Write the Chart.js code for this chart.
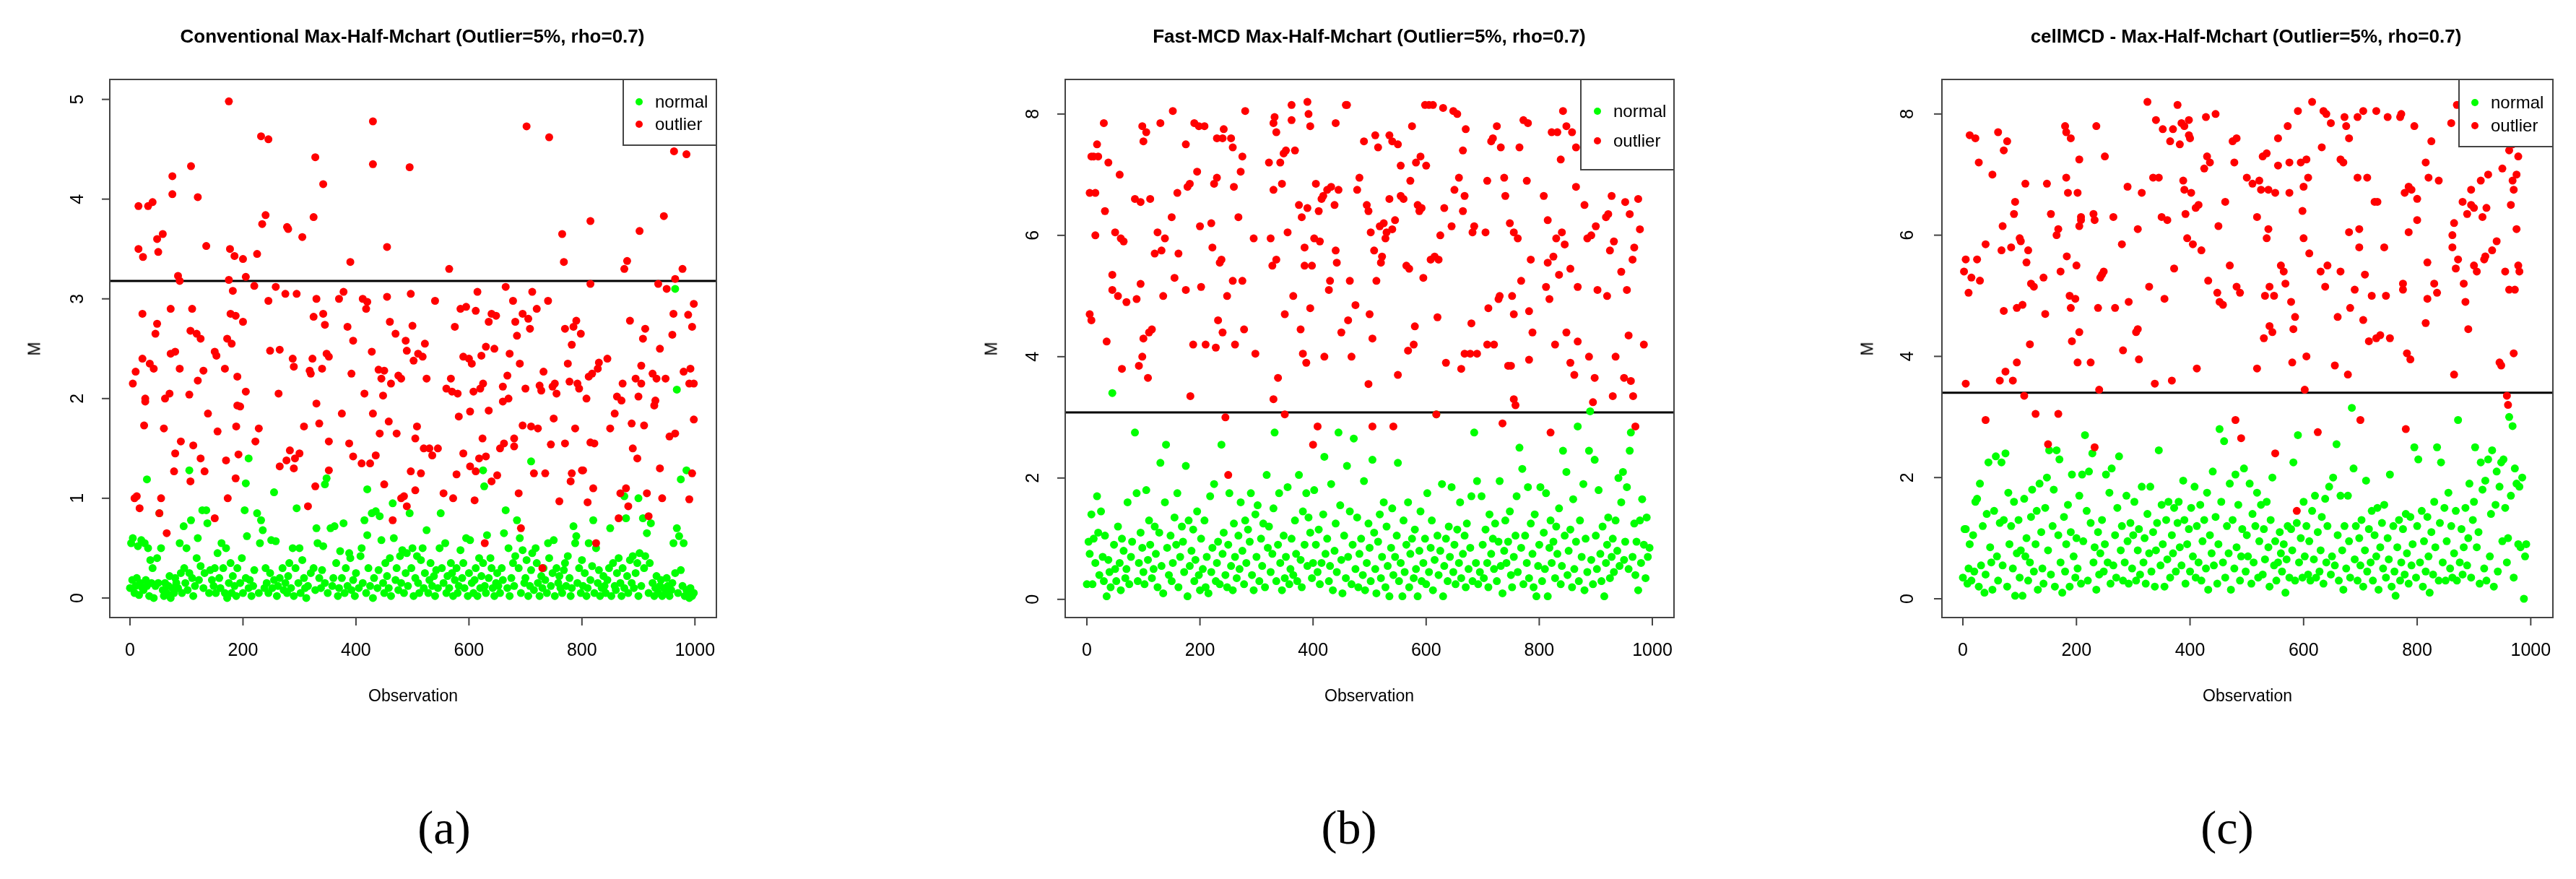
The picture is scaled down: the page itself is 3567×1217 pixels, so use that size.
<!DOCTYPE html>
<html><head><meta charset="utf-8">
<script src="https://cdn.jsdelivr.net/npm/chart.js@4"></script>
<style>
body{margin:0;background:#fff;width:3567px;height:1217px;overflow:hidden;position:relative;font-family:"Liberation Sans",Arial,sans-serif}
canvas{position:absolute;left:0;top:0}
.t{position:absolute;white-space:nowrap;transform:translate(-50%,-50%);color:#000}
.title{font-weight:bold;font-size:26px}
.lab{font-size:23px}
.cap{font-family:"Liberation Serif","DejaVu Serif",serif;font-size:66px}
.leg{font-size:24px;transform:translate(0,-50%)}
.m{transform:translate(-50%,-50%) rotate(-90deg)}
</style></head><body>
<script>
const xTicks=[0,200,400,600,800,1000];
const yTicksA=[0,1,2,3,4,5];
const yTicksBC=[0,2,4,6,8];
const thresholds=[3.18,3.08,3.4];
const titles=["Conventional Max-Half-Mchart (Outlier=5%, rho=0.7)","Fast-MCD Max-Half-Mchart (Outlier=5%, rho=0.7)","cellMCD - Max-Half-Mchart (Outlier=5%, rho=0.7)"];
const captions=["(a)","(b)","(c)"];
const legendLabels=["normal","outlier"];

const aOutlier=[5,2.15,8,1.0,10,2.27,12,1.02,15,3.93,15,3.5,17,0.9,22,2.85,22,2.4,23,3.42,25,1.73,27,2.0,27,1.97,32,3.93,35,2.35,40,3.97,42,2.3,45,2.65,48,2.75,48,3.6,50,3.47,52,0.85,55,1.0,58,3.65,60,1.7,62,2.0,65,0.65,70,2.05,72,2.9,72,2.45,75,4.23,75,4.05,78,1.27,80,2.47,80,1.45,85,3.23,88,3.18,88,2.3,90,1.57,105,2.04,107,2.68,107,1.17,108,4.33,110,2.9,112,1.53,118,2.65,120,4.02,120,2.18,125,2.6,125,1.4,130,2.28,132,1.27,135,3.53,138,1.85,150,0.8,150,2.47,153,2.43,155,1.67,168,2.3,170,1.38,172,2.6,173,1.0,175,3.19,175,4.98,177,3.5,178,2.85,180,2.55,182,3.08,185,3.43,187,2.83,187,1.2,188,1.72,190,2.22,190,1.93,192,1.44,195,1.92,200,3.4,200,2.77,205,3.22,205,2.07,220,3.13,222,1.57,225,3.45,228,1.7,232,4.63,234,3.75,240,3.84,245,4.6,245,2.98,248,2.48,258,3.12,263,2.05,265,2.49,265,1.32,275,3.05,277,1.38,278,3.72,280,3.7,283,1.48,288,2.4,290,2.32,290,1.3,292,1.4,295,3.05,300,1.45,305,3.62,308,1.72,315,0.92,318,2.28,320,2.25,323,2.4,325,2.82,325,3.82,328,4.42,328,1.12,330,3.0,330,1.95,335,1.75,340,2.3,342,2.85,342,4.15,345,2.74,348,2.45,352,1.57,352,2.42,352,1.28,370,3.0,375,1.85,378,3.07,385,2.72,388,1.55,390,3.37,392,2.25,395,2.58,395,1.42,410,1.35,412,3.0,415,2.05,418,2.9,420,2.97,425,1.35,428,2.47,430,4.35,430,4.78,430,1.85,435,1.43,440,2.29,442,1.65,445,2.2,448,2.03,450,2.28,450,1.14,455,3.02,455,3.52,458,1.77,460,2.77,462,2.15,465,0.78,470,2.65,472,1.65,475,2.23,480,2.2,480,1.0,485,1.02,488,2.58,490,0.92,490,2.48,495,4.32,497,3.05,497,1.27,500,2.73,502,2.38,505,1.6,505,1.08,508,1.72,510,2.45,515,1.25,518,2.42,520,1.5,522,2.55,525,2.2,530,1.5,535,1.43,540,2.98,545,1.5,555,1.05,560,2.1,565,3.3,568,2.2,570,2.07,572,1.0,575,2.72,578,1.24,580,2.05,582,1.82,585,2.9,590,2.42,590,1.45,595,2.92,600,2.4,602,1.87,602,1.32,605,2.35,608,2.07,610,0.98,612,2.88,612,1.27,615,3.07,618,1.4,620,2.1,622,2.43,624,1.6,625,2.15,628,0.55,630,2.52,630,1.42,635,2.77,635,1.88,640,2.85,640,1.17,645,2.5,648,2.83,650,1.23,655,1.5,660,1.97,660,2.12,662,1.55,665,3.12,668,2.23,670,2.0,672,2.45,678,2.98,680,1.52,680,1.6,682,2.77,685,2.63,688,1.05,690,2.35,692,0.7,695,2.85,695,1.73,700,2.1,702,4.73,705,2.8,708,2.7,710,1.72,712,3.07,715,1.25,720,2.9,722,1.7,725,2.13,728,2.08,730,0.3,732,2.27,735,1.25,740,2.98,742,4.62,745,1.54,748,2.12,750,1.8,752,2.15,755,2.05,760,0.97,765,3.65,768,3.37,770,2.7,770,1.55,775,2.35,778,2.17,780,1.17,782,1.25,782,2.54,785,2.72,788,1.7,790,2.78,792,2.15,795,2.1,798,2.65,800,1.28,802,1.28,808,2.0,810,0.96,812,2.22,815,3.78,815,3.15,815,1.56,818,2.25,820,1.1,822,1.55,825,0.55,828,2.3,830,2.36,845,2.4,850,1.7,858,1.85,862,2.02,865,0.8,868,1.05,870,1.98,872,2.15,875,3.3,878,1.1,880,3.38,882,0.92,885,2.78,888,1.75,890,1.5,895,2.2,898,1.4,900,2.02,902,3.68,905,2.33,905,2.15,908,2.6,910,1.73,912,2.7,915,1.05,918,0.82,925,2.25,928,1.93,930,1.98,932,2.2,935,3.15,938,1.3,938,2.5,942,1.0,945,3.83,948,2.2,950,3.1,955,1.62,960,2.64,962,2.85,963,4.48,965,3.2,965,1.65,978,3.3,980,2.27,985,4.45,988,2.84,990,0.99,990,2.15,992,2.3,995,2.72,995,1.25,998,2.15,998,2.95,998,1.79];

const aNormal=[965,3.1,968,2.09,105,1.28,30,1.19,210,1.4,205,1.15,255,1.06,348,1.2,345,1.14,420,1.09,625,1.28,627,1.12,710,1.37,975,1.19,985,1.28,875,1.02,900,1.0,0,0.1,2,0.55,4,0.18,5,0.6,8,0.05,10,0.12,12,0.2,14,0.52,16,0.03,18,0.15,20,0.58,22,0.1,24,0.08,26,0.55,28,0.18,30,0.12,32,0.5,34,0.02,36,0.38,38,0.15,40,0.3,42,0.0,45,0.12,48,0.4,50,0.15,52,0.85,55,0.5,58,0.08,60,0.02,62,0.15,65,0.05,68,0.12,70,0.22,72,0.0,75,0.1,78,0.05,80,0.2,82,0.15,85,0.1,88,0.55,90,0.25,92,0.05,95,0.72,96,0.3,98,0.15,100,0.5,102,0.08,105,0.25,108,0.78,110,0.2,112,0.02,115,0.12,118,0.4,120,0.6,122,0.18,125,0.32,128,0.88,130,0.1,132,0.25,135,0.88,137,0.75,140,0.05,142,0.28,145,0.18,148,0.12,150,0.3,152,0.05,155,0.45,158,0.2,160,0.1,162,0.55,165,0.3,168,0.05,170,0.5,172,0.0,175,0.15,178,0.35,180,0.05,182,0.22,185,0.12,188,0.02,190,0.3,195,0.15,198,0.4,200,0.05,203,0.88,205,0.2,207,0.62,210,0.1,212,0.18,215,0.02,218,0.12,220,0.28,225,0.85,228,0.05,230,0.55,232,0.78,235,0.68,238,0.1,240,0.3,242,0.15,245,0.05,248,0.25,250,0.58,252,0.1,255,0.18,258,0.57,260,0.02,262,0.12,265,0.2,270,0.3,272,0.08,275,0.15,278,0.05,280,0.22,282,0.35,285,0.1,288,0.5,290,0.02,293,0.3,295,0.9,298,0.15,300,0.5,302,0.05,305,0.38,308,0.2,310,0.1,312,0.0,315,0.12,320,0.25,325,0.3,328,0.08,330,0.7,332,0.55,335,0.2,338,0.1,340,0.28,342,0.52,345,0.15,350,0.05,355,0.7,358,0.12,360,0.2,362,0.72,365,0.35,368,0.02,370,0.1,372,0.47,375,0.2,378,0.75,380,0.05,382,0.3,385,0.12,388,0.45,390,0.4,392,0.08,395,0.18,398,0.02,400,0.25,405,0.1,408,0.42,410,0.5,412,0.15,415,0.78,418,0.05,420,0.63,422,0.3,425,0.12,428,0.85,430,0.0,432,0.2,435,0.87,438,0.1,440,0.28,442,0.82,445,0.58,448,0.15,450,0.05,452,0.35,455,0.22,458,0.1,460,0.4,462,0.02,465,0.95,467,0.6,470,0.18,472,0.3,475,0.08,478,0.42,480,0.15,482,0.48,485,0.05,488,0.25,490,0.45,492,0.12,495,0.85,498,0.3,500,0.5,502,0.02,505,0.2,508,0.42,510,0.15,512,0.05,515,0.38,518,0.5,520,0.1,522,0.25,525,0.68,528,0.05,530,0.18,532,0.35,535,0.12,538,0.22,540,0.02,542,0.28,545,0.1,548,0.5,550,0.85,552,0.3,555,0.15,558,0.55,560,0.05,562,0.22,565,0.1,568,0.35,570,0.25,572,0.02,575,0.18,578,0.3,580,0.05,582,0.12,585,0.48,588,0.2,590,0.35,592,0.1,595,0.6,598,0.02,600,0.25,602,0.58,605,0.15,608,0.05,610,0.18,612,0.3,615,0.02,618,0.4,620,0.1,622,0.22,625,0.35,628,0.12,630,0.05,632,0.63,635,0.2,638,0.4,640,0.3,642,0.1,645,0.02,648,0.15,650,0.25,652,0.12,655,0.05,658,0.3,660,0.18,662,0.65,665,0.88,668,0.1,670,0.5,672,0.02,675,0.2,678,0.35,680,0.12,682,0.42,685,0.78,688,0.3,690,0.6,692,0.05,695,0.48,698,0.15,700,0.2,702,0.38,705,0.02,708,0.12,710,0.28,712,0.45,715,0.08,718,0.5,720,0.35,722,0.15,725,0.02,728,0.22,730,0.1,732,0.3,735,0.18,738,0.05,740,0.55,742,0.4,745,0.12,748,0.25,750,0.58,752,0.02,755,0.3,758,0.15,760,0.22,762,0.1,765,0.05,768,0.28,770,0.35,772,0.12,775,0.42,778,0.2,780,0.02,782,0.1,785,0.72,788,0.55,790,0.62,792,0.15,795,0.3,798,0.05,800,0.38,802,0.12,805,0.25,808,0.02,810,0.1,812,0.55,815,0.18,818,0.32,820,0.78,822,0.05,825,0.5,828,0.15,830,0.28,832,0.02,835,0.1,838,0.22,840,0.12,842,0.05,845,0.18,848,0.3,850,0.7,852,0.02,855,0.35,858,0.12,860,0.08,862,0.25,865,0.4,868,0.15,870,0.02,872,0.3,875,0.1,878,0.8,880,0.22,882,0.05,885,0.38,888,0.15,890,0.42,892,0.1,895,0.25,898,0.35,900,0.02,902,0.45,905,0.12,908,0.8,910,0.3,912,0.42,915,0.65,918,0.05,920,0.35,922,0.75,925,0.15,928,0.02,930,0.1,932,0.22,935,0.05,938,0.12,940,0.18,942,0.02,945,0.1,948,0.05,950,0.2,952,0.12,955,0.02,958,0.08,960,0.15,962,0.55,965,0.25,968,0.7,970,0.05,972,0.62,975,0.28,978,0.12,980,0.55,982,0.02,985,0.08,988,0.05,990,0.0,992,0.1,995,0.02,998,0.05];

const bOutlier=[5,6.7,5,4.7,8,4.6,8,7.3,12,7.3,15,6.7,15,6.0,18,7.5,20,7.3,30,7.85,32,6.4,35,4.25,38,7.2,45,5.1,45,5.35,50,6.05,55,5.0,58,7.0,60,5.95,62,3.8,65,5.9,70,4.9,85,6.6,88,4.95,92,3.85,95,5.2,95,6.55,98,7.8,98,4.0,100,4.3,100,7.55,105,7.7,108,3.65,110,4.4,112,6.6,115,4.45,120,5.7,125,6.05,130,7.85,132,5.75,135,5.0,138,5.95,150,6.3,152,8.05,155,5.3,160,6.7,162,5.7,175,7.5,175,5.1,178,6.8,182,6.85,183,3.35,188,4.2,190,7.85,195,7.05,198,7.8,200,6.15,202,5.15,208,7.8,210,4.2,220,6.2,222,5.8,225,6.85,228,4.15,230,6.95,230,7.6,232,4.6,235,5.55,238,5.6,240,7.6,240,4.4,242,7.75,245,3.0,248,5.0,250,2.05,255,7.6,258,7.45,258,5.25,260,6.8,262,4.2,268,6.3,272,7.05,275,7.3,275,5.25,278,4.45,280,8.05,295,5.95,298,4.05,322,7.2,325,5.95,328,5.5,330,7.85,330,6.75,330,3.3,332,7.95,335,5.6,335,7.7,338,3.65,342,7.2,345,6.85,348,7.35,350,4.7,350,3.05,352,7.4,355,6.05,362,7.9,362,8.15,365,5.0,368,7.4,375,6.5,378,4.45,380,6.3,382,4.05,385,5.8,385,5.5,388,3.9,390,6.45,390,8.2,392,8.0,395,7.8,395,4.8,398,5.5,400,2.55,402,5.95,405,6.85,408,2.85,410,6.4,412,5.9,415,6.6,418,6.65,420,4.0,425,6.75,428,5.1,430,5.25,432,6.8,438,6.5,440,5.75,440,7.85,442,5.55,445,6.75,450,4.4,458,8.15,460,8.15,462,4.6,465,5.25,468,4.0,475,4.85,478,6.75,482,6.95,490,7.55,495,6.5,498,3.55,498,6.4,500,4.7,502,6.05,505,4.3,505,2.85,508,5.75,510,7.65,512,5.25,515,7.45,518,6.15,520,5.55,522,5.65,525,6.2,528,5.95,530,6.05,535,6.6,535,7.65,540,6.1,540,7.55,542,2.85,545,6.25,550,3.7,550,7.5,555,7.15,555,6.65,560,6.6,565,5.5,568,4.1,570,5.45,572,6.9,575,7.8,578,4.2,580,4.5,582,7.2,585,6.5,588,6.4,590,7.3,592,6.45,595,5.3,598,8.15,600,7.15,605,8.15,608,5.6,612,8.15,615,5.65,618,3.05,620,4.65,622,5.6,625,6.0,630,8.1,632,6.45,635,3.9,645,6.15,648,8.05,650,6.75,655,8.0,658,6.95,662,3.8,665,7.4,665,6.4,668,6.65,668,4.05,670,7.75,678,4.05,680,4.55,682,6.05,685,6.15,690,4.05,705,6.05,708,6.9,708,4.2,710,4.8,715,7.55,718,7.6,720,4.2,725,7.8,728,4.95,730,5.0,732,7.45,735,2.9,738,6.95,740,6.65,745,3.85,748,6.2,750,3.85,752,5.0,755,6.05,755,4.7,755,3.3,758,3.2,762,5.95,765,7.45,768,5.25,772,7.9,778,6.9,780,7.85,782,3.95,782,4.75,785,5.6,788,4.4,808,6.65,812,5.15,815,6.25,815,5.55,818,4.95,820,2.75,822,7.7,825,5.65,828,4.2,830,5.95,832,7.7,835,5.35,838,7.25,840,6.05,842,8.05,845,5.85,848,7.8,848,4.4,855,5.45,855,3.9,858,7.7,862,3.7,865,7.45,865,6.8,868,5.15,868,4.25,880,6.5,885,5.95,888,4.0,892,6.0,895,3.25,898,3.65,900,6.15,903,5.1,918,6.3,920,5.0,922,6.35,925,5.75,928,6.65,930,3.35,932,5.9,935,4.0,945,5.4,950,3.65,952,6.55,955,5.1,958,4.35,960,6.35,962,3.6,965,5.6,966,3.35,968,5.8,970,2.85,975,6.6,978,6.1,985,4.2];

const bNormal=[0,0.25,3,0.95,5,0.75,8,1.4,10,0.25,12,1.0,15,0.6,18,1.7,20,1.1,22,0.4,25,1.45,28,0.7,30,0.3,32,1.05,35,0.05,38,0.65,40,0.45,42,0.2,45,3.4,48,0.9,50,0.5,52,0.3,55,1.2,58,0.6,60,0.15,62,1.0,65,0.8,68,0.35,70,0.5,72,1.6,75,0.25,78,0.7,80,0.95,85,2.75,88,1.75,90,0.3,92,0.6,95,1.1,98,0.85,100,0.45,102,0.25,105,1.8,108,0.65,110,1.3,112,0.9,115,0.35,118,0.5,120,1.2,122,0.75,125,0.2,128,1.1,130,2.25,132,0.55,135,0.1,138,1.6,140,2.55,142,0.85,145,0.4,148,1.05,150,0.3,152,0.6,155,1.35,158,0.9,160,1.75,162,0.2,165,0.7,168,1.2,170,0.95,172,0.45,175,2.2,178,0.05,180,1.3,182,0.55,185,0.8,188,1.15,190,0.3,192,0.65,195,1.45,198,0.4,200,0.15,202,1.0,205,0.5,208,1.3,210,0.2,212,0.7,215,0.1,218,1.7,220,0.45,222,0.85,225,1.9,228,0.3,230,0.6,232,0.95,235,0.25,238,2.55,240,0.75,242,1.1,245,0.4,248,0.2,250,0.9,252,1.75,255,0.55,258,0.15,260,1.25,262,0.7,265,0.35,268,1.05,270,0.5,272,1.6,275,0.8,278,0.25,280,1.3,282,0.6,285,1.15,288,0.95,290,1.75,292,0.4,295,0.15,298,1.4,300,0.7,302,1.55,305,0.3,308,1.0,310,0.55,312,1.25,315,0.2,318,2.05,320,0.85,322,1.2,325,0.45,328,0.75,330,1.5,332,2.75,335,0.3,338,0.9,340,1.75,342,0.6,345,0.15,348,1.05,350,0.35,352,0.7,355,1.85,358,0.25,360,0.5,362,1.0,365,0.4,368,1.3,370,0.75,372,0.3,375,2.05,378,0.65,380,0.2,382,1.45,385,0.9,388,1.75,390,0.55,392,1.35,395,1.1,398,0.35,400,0.6,402,1.8,405,0.9,408,0.45,410,1.15,412,0.25,415,0.6,418,1.4,420,2.35,422,0.75,425,1.0,428,0.3,430,0.55,432,1.9,435,0.15,438,0.8,440,1.25,442,0.45,445,2.75,448,1.55,450,0.65,452,0.1,455,1.05,458,0.35,460,2.2,462,0.7,465,1.45,468,0.25,470,0.9,472,2.65,475,0.5,478,1.35,480,0.2,482,0.75,485,1.0,488,0.4,490,1.95,492,0.15,495,0.6,498,1.25,500,0.85,502,0.3,505,2.3,508,1.1,510,0.5,512,0.1,515,0.95,518,1.4,520,0.35,522,0.7,525,1.6,528,0.2,530,1.2,532,0.55,535,0.05,538,0.85,540,1.5,542,0.4,545,0.7,548,1.05,550,2.25,552,0.3,555,0.6,558,0.05,560,1.3,562,0.45,565,0.9,568,1.6,570,0.2,572,0.75,575,1.0,578,0.35,580,1.15,582,0.5,585,0.05,588,0.8,590,1.45,592,0.3,595,0.6,598,1.0,600,0.25,602,1.75,605,0.45,608,0.85,610,1.3,612,0.15,615,0.65,618,3.05,620,1.05,622,0.4,625,0.8,628,1.9,630,0.05,632,0.55,635,1.0,638,0.3,640,1.2,642,0.7,645,1.85,648,0.45,650,0.9,652,0.25,655,1.15,658,0.6,660,1.6,662,0.35,665,0.75,668,1.05,670,0.2,672,1.25,675,0.5,678,0.85,680,1.7,682,0.3,685,2.75,688,0.6,690,1.95,692,0.25,695,0.45,698,1.7,700,0.9,702,0.35,705,1.15,708,0.6,710,0.2,712,1.4,715,0.75,718,1.0,720,0.5,722,1.25,725,0.3,728,0.95,730,1.95,732,0.55,735,0.1,738,0.8,740,1.3,742,0.6,745,0.95,748,1.45,750,0.4,752,0.2,755,0.7,758,1.05,760,1.7,762,0.45,765,2.5,768,0.85,770,2.15,772,0.25,775,1.05,778,0.6,780,1.85,782,0.35,785,1.25,788,0.75,790,0.2,792,1.4,795,0.05,798,0.55,800,0.9,802,1.85,805,0.3,808,1.1,810,0.5,812,1.75,815,0.05,818,0.85,820,1.3,822,0.6,825,0.95,828,0.35,830,1.2,832,0.75,835,1.5,838,0.25,840,0.55,842,2.45,845,1.05,848,2.1,850,0.4,852,0.8,855,1.15,858,0.2,860,1.65,862,0.5,865,0.95,868,2.85,870,0.3,872,1.3,875,0.7,878,1.9,880,0.15,882,1.0,885,0.45,888,2.45,890,3.1,892,0.65,895,0.25,898,2.3,900,1.05,902,0.5,905,1.8,908,0.75,910,0.3,912,1.2,915,0.05,918,0.6,920,0.9,922,1.35,925,0.35,928,0.7,930,1.0,932,0.45,935,1.3,938,0.8,940,2.0,942,0.55,945,1.6,948,2.1,950,0.65,952,0.95,955,1.85,958,0.5,960,2.45,962,2.75,965,0.7,968,1.25,970,0.4,972,0.95,975,0.15,978,1.3,980,0.6,982,1.65,985,0.9,988,0.35,990,1.35,992,0.7,995,0.85];

const cOutlier=[2,5.4,5,3.55,5,5.6,10,5.05,12,7.65,15,5.3,22,7.6,25,5.6,28,7.2,30,5.25,40,5.85,40,2.95,52,7.0,62,7.7,65,3.6,68,5.75,70,6.15,72,7.4,72,4.75,75,3.75,78,7.55,85,5.8,88,3.6,90,6.35,92,6.55,95,3.9,95,4.8,100,5.95,102,5.9,105,4.85,108,3.35,110,6.85,112,5.55,115,5.75,118,4.2,120,5.2,125,5.15,128,3.05,142,5.3,145,4.7,148,6.85,150,2.55,155,6.35,165,6.0,168,6.1,168,3.05,172,5.4,180,7.8,182,7.7,182,6.95,183,5.65,185,6.7,188,5.0,190,4.8,190,7.6,192,4.25,198,4.95,200,5.5,202,6.7,202,3.9,205,7.25,205,6.15,205,4.4,208,6.25,208,6.3,225,3.9,230,6.35,232,6.25,232,2.5,235,7.8,238,4.8,240,3.45,242,5.3,245,5.35,248,5.4,250,7.3,265,6.3,268,4.8,280,5.85,282,4.1,290,6.8,292,4.9,305,4.4,308,6.1,308,4.45,310,3.95,315,6.7,325,8.2,328,5.15,335,6.95,338,3.55,340,7.9,345,6.95,350,6.3,352,7.75,355,4.95,360,6.25,365,7.55,368,3.6,370,7.75,372,5.45,378,8.15,382,7.5,385,7.85,388,6.9,390,6.75,390,7.8,392,6.35,395,5.95,398,7.65,398,7.9,400,7.6,402,6.7,405,5.85,410,6.45,412,3.8,415,6.5,420,5.75,425,7.1,428,7.95,430,7.3,432,5.25,435,7.2,445,8.0,448,5.05,450,6.15,452,4.9,458,4.85,462,6.55,470,5.5,475,7.55,478,7.2,480,2.95,482,7.6,482,5.15,488,5.05,490,2.65,500,6.95,510,6.85,518,6.3,518,3.8,522,6.9,525,6.75,528,7.3,530,4.3,532,5.0,535,7.35,535,5.95,538,6.75,538,6.1,540,5.15,540,4.5,545,4.4,548,5.0,550,6.7,550,2.4,555,7.15,555,7.6,560,5.5,565,5.4,568,5.2,572,7.8,575,6.7,575,7.2,578,4.9,580,3.9,582,4.45,585,4.65,588,1.45,590,8.05,595,7.2,598,6.4,600,5.95,600,6.8,602,3.45,605,4.0,605,7.25,608,6.95,610,5.7,615,8.2,625,2.75,630,5.4,632,7.45,635,8.05,638,5.15,640,8.0,642,5.5,648,7.85,655,3.85,660,4.65,665,7.25,665,5.4,670,7.2,672,7.95,675,7.8,678,3.7,680,6.05,680,7.6,682,4.8,690,5.1,695,6.95,695,7.95,698,5.8,698,6.1,700,2.95,705,8.05,705,4.6,708,5.35,712,6.95,715,4.25,720,5.0,725,6.55,728,4.3,728,8.05,730,6.55,735,4.35,742,5.8,745,5.0,748,7.95,752,4.3,770,7.95,772,8.0,775,5.2,775,5.1,778,6.7,780,2.8,782,4.05,785,6.05,785,6.8,788,3.95,790,6.75,795,7.8,800,6.6,800,6.25,815,7.2,815,4.55,818,5.55,818,4.95,820,6.95,825,7.55,830,5.2,835,5.05,838,6.9,860,7.85,862,6.0,862,5.8,865,6.2,865,3.7,868,5.45,870,8.15,872,5.6,880,6.55,882,5.2,885,4.9,888,6.35,890,4.45,895,6.75,895,6.5,900,5.5,900,6.45,905,5.4,912,6.9,915,6.3,918,5.6,920,5.65,922,6.45,925,7.0,932,5.75,940,5.9,945,3.9,948,3.85,950,7.1,955,5.4,958,3.35,960,3.2,962,5.1,962,7.4,965,6.5,968,6.9,970,6.75,970,4.05,972,5.1,975,7.0,975,6.1,978,7.3,978,5.5,980,5.4,968,7.5];

const cNormal=[0,0.35,3,1.15,5,1.15,8,0.25,10,0.5,12,0.9,15,0.3,18,1.05,20,0.45,22,1.6,25,1.65,28,0.2,30,1.9,32,0.55,35,1.2,38,0.1,40,0.4,42,1.4,45,2.25,48,0.85,50,0.6,52,0.15,55,1.45,58,2.35,60,0.7,62,0.3,65,1.25,68,2.25,70,0.55,72,1.3,75,2.4,78,0.2,80,1.75,82,0.9,85,1.2,88,0.5,90,1.6,92,0.05,95,0.75,98,1.3,100,0.35,102,0.8,105,0.05,108,1.65,110,0.7,112,1.0,115,0.3,118,0.6,120,1.35,122,1.8,125,0.45,128,0.9,130,1.45,132,0.15,135,1.9,138,1.1,140,0.5,142,0.25,145,1.5,148,2.0,150,0.8,152,2.45,155,0.4,158,1.2,160,1.8,162,0.2,165,2.45,168,1.05,170,2.3,172,0.6,175,0.1,178,1.35,180,0.45,182,0.9,185,1.55,188,0.2,190,1.1,192,2.05,195,0.7,198,0.35,200,1.0,202,0.5,205,1.7,208,0.25,210,2.05,212,0.95,215,2.7,218,1.45,220,0.3,222,2.1,225,1.25,228,2.4,230,0.6,232,0.85,235,0.15,238,1.1,240,0.4,242,0.75,245,1.3,248,0.45,250,0.9,252,2.05,255,0.6,258,1.75,260,0.25,262,2.15,265,0.55,268,1.05,270,0.35,272,1.5,275,2.35,278,0.8,280,1.2,282,0.3,285,0.6,288,1.7,290,0.95,292,0.25,295,1.25,298,0.5,300,1.05,302,1.6,305,0.3,308,0.8,310,1.15,312,0.4,315,1.85,318,0.6,320,1.0,322,0.25,325,1.4,328,0.75,330,1.85,332,0.45,335,1.1,338,0.2,340,0.8,342,1.25,345,2.45,348,0.55,350,1.55,352,0.9,355,0.2,358,1.3,360,0.65,362,1.6,365,0.35,368,1.05,370,0.75,372,1.5,375,0.45,378,1.25,380,1.6,382,0.85,385,0.55,388,1.95,390,1.3,392,0.25,395,0.9,398,1.15,400,0.45,402,1.5,405,0.7,408,1.85,410,0.35,412,1.2,415,0.6,418,1.55,420,0.3,422,0.95,425,1.3,428,0.5,430,1.75,432,0.15,435,1.05,438,0.75,440,2.1,442,0.55,445,1.35,448,0.25,450,0.9,452,2.8,455,1.6,458,0.6,460,2.6,462,0.35,465,1.2,468,0.75,470,1.9,472,0.15,475,1.3,478,0.5,480,2.05,482,0.85,485,1.55,488,0.3,490,0.7,492,1.15,495,2.15,498,0.45,500,1.05,502,0.7,505,1.9,508,0.25,510,1.4,512,0.6,515,1.2,518,1.75,520,0.35,522,0.95,525,1.55,528,0.4,530,1.15,532,0.65,535,1.6,538,0.85,540,0.2,542,1.3,545,2.0,548,0.55,550,0.95,552,0.3,555,0.6,558,1.1,560,0.75,562,0.45,565,0.9,568,0.1,570,0.65,572,1.2,575,0.35,578,1.15,580,0.8,582,2.25,585,0.3,588,1.25,590,2.7,592,0.6,595,1.0,598,0.35,600,1.6,602,0.7,605,1.2,608,0.4,610,0.95,612,0.3,615,1.45,618,0.65,620,1.7,622,0.35,625,1.1,628,0.45,630,0.8,632,1.35,635,0.25,638,1.65,640,0.6,642,1.2,645,1.85,648,0.4,650,0.7,652,2.0,655,0.55,658,2.55,660,1.05,662,0.3,665,1.7,668,0.8,670,0.15,672,1.2,675,0.5,678,1.7,680,0.95,682,0.35,685,3.15,688,2.15,690,0.65,692,1.2,695,0.3,698,1.0,700,0.55,702,1.3,705,0.2,708,0.8,710,1.95,712,0.45,715,1.15,718,0.6,720,1.45,722,0.3,725,1.05,728,0.7,730,1.5,732,0.15,735,0.85,738,1.25,740,0.5,742,1.55,745,0.35,748,1.0,750,0.65,752,2.05,755,0.2,758,1.2,760,0.45,762,0.05,765,0.85,768,1.3,770,0.3,772,0.6,775,1.15,778,0.4,780,1.4,782,0.75,785,0.25,788,1.35,790,0.55,792,0.9,795,2.5,798,0.35,800,1.2,802,2.3,805,0.6,808,1.45,810,0.2,812,0.95,815,0.45,818,1.35,820,0.7,822,0.1,825,1.1,828,0.4,830,1.6,832,0.85,835,2.5,838,0.3,840,1.25,842,2.25,845,0.6,848,1.5,850,0.3,852,0.95,855,1.75,858,0.5,860,1.2,862,0.35,865,0.75,868,1.45,870,0.3,872,2.95,875,0.6,878,1.15,880,0.4,882,0.85,885,1.5,888,0.55,890,1.0,892,1.9,895,0.35,898,1.3,900,1.6,902,2.5,905,0.85,908,1.1,910,0.25,912,2.25,915,1.8,918,0.5,920,1.95,922,0.3,925,2.3,928,0.7,930,1.4,932,2.45,935,0.2,938,1.55,940,2.1,942,0.45,945,1.85,948,2.25,950,0.95,952,2.3,955,1.5,958,0.6,960,1.0,962,3.0,965,1.7,968,2.85,970,0.35,972,2.15,975,1.9,978,0.9,980,1.85,982,0.85,985,2.0,988,0.0,990,0.7,992,0.9];

const panels=[
 {normal:aNormal,outlier:aOutlier,yTicks:yTicksA,box:[152,110,992,855],x:[-35.8,1038],y:[-0.196,5.2],leg:[863,992,201,141,172,885],title:571,yl:108,M:48,obs:572,cap:615},
 {normal:bNormal,outlier:bOutlier,yTicks:yTicksBC,box:[1475,110,2318,855],x:[-38.3,1038.3],y:[-0.30,8.57],leg:[2189,2318,235,154,195,2212],title:1896,yl:1431,M:1373,obs:1896,cap:1868},
 {normal:cNormal,outlier:cOutlier,yTicks:yTicksBC,box:[2689,110,3535,855],x:[-36.9,1039],y:[-0.31,8.57],leg:[3405,3535,203,142,174,3427],title:3110,yl:2642,M:2586,obs:3112,cap:3084}
];
const pairs=f=>{const o=[];for(let i=0;i<f.length;i+=2)o.push({x:f[i],y:f[i+1]});return o;};

function addText(cls,txt,x,y){const d=document.createElement('div');d.className='t '+cls;d.textContent=txt;d.style.left=x+'px';d.style.top=y+'px';document.body.appendChild(d);}

panels.forEach((p,i)=>{
  const cv=document.createElement('canvas');cv.width=3567;cv.height=1217;document.body.appendChild(cv);
  const [L,T,R,B]=p.box;
  const deco={id:'deco'+i,
    beforeDatasetsDraw(ch){const c=ch.ctx,xs=ch.scales.x,ys=ch.scales.y;c.save();
      c.strokeStyle='#000';c.lineWidth=3;const yy=ys.getPixelForValue(thresholds[i]);c.beginPath();c.moveTo(L,yy);c.lineTo(R,yy);c.stroke();c.restore();},
    afterDatasetsDraw(ch){const c=ch.ctx,xs=ch.scales.x,ys=ch.scales.y;c.save();
      c.strokeStyle='#444';c.lineWidth=2;c.strokeRect(L,T,R-L,B-T);
      c.fillStyle='#000';c.font='25px "Liberation Sans", Arial, sans-serif';c.textAlign='center';c.textBaseline='middle';
      xTicks.forEach(v=>{const px=xs.getPixelForValue(v);c.beginPath();c.moveTo(px,B);c.lineTo(px,B+11);c.stroke();c.fillText(String(v),px,901);});
      p.yTicks.forEach(v=>{const py=ys.getPixelForValue(v);c.beginPath();c.moveTo(L,py);c.lineTo(L-11,py);c.stroke();
        c.save();c.translate(p.yl,py);c.rotate(-Math.PI/2);c.fillText(String(v),0,0);c.restore();});
      const lg=p.leg;c.fillStyle='#fff';c.fillRect(lg[0],T,lg[1]-lg[0],lg[2]-T);c.strokeRect(lg[0],T,lg[1]-lg[0],lg[2]-T);
      [['#00ff00',lg[3]],['#ff0000',lg[4]]].forEach(([col,y])=>{c.fillStyle=col;c.beginPath();c.arc(lg[5],y,5,0,7);c.fill();});
      c.restore();}
  };
  new Chart(cv,{type:'scatter',
    data:{datasets:[
      {label:'outlier',data:pairs(p.outlier),backgroundColor:'#ff0000',borderWidth:0,pointRadius:5.5},
      {label:'normal',data:pairs(p.normal),backgroundColor:'#00ff00',borderWidth:0,pointRadius:5.5}]},
    options:{responsive:false,animation:false,devicePixelRatio:1,
      layout:{padding:{left:L,top:T,right:3567-R,bottom:1217-B}},
      plugins:{legend:{display:false},tooltip:{enabled:false}},
      scales:{x:{type:'linear',display:false,min:p.x[0],max:p.x[1]},y:{type:'linear',display:false,min:p.y[0],max:p.y[1]}}},
    plugins:[deco]});
  addText('title',titles[i],p.title,50);
  addText('lab','Observation',p.obs,963);
  addText('lab m','M',p.M,483);
  addText('cap',captions[i],p.cap,1146);
  addText('leg',legendLabels[0],p.leg[5]+22,p.leg[3]);
  addText('leg',legendLabels[1],p.leg[5]+22,p.leg[4]);
});
</script>
</body></html>
